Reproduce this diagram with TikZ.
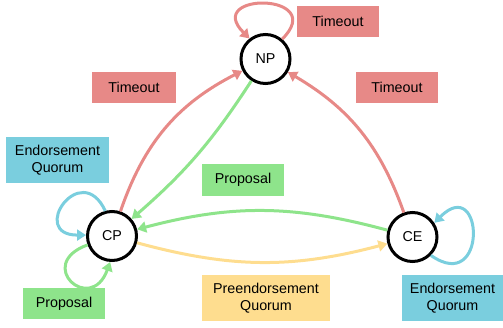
\documentclass[tikz,border=0pt]{standalone}
\usepackage{fontspec}
\setmainfont{Liberation Sans}
\usepackage{tikz}
\usetikzlibrary{arrows.meta}

\definecolor{tored}{RGB}{231,137,135}
\definecolor{togreen}{RGB}{142,228,139}
\definecolor{toblue}{RGB}{122,206,222}
\definecolor{toyellow}{RGB}{254,221,143}

\begin{document}
\begin{tikzpicture}[x=1pt, y=1pt,
    font=\fontsize{14.3}{17}\selectfont,
    state/.style={circle, draw=black, line width=3pt, fill=white, minimum size=49pt, inner sep=0pt},
    tag/.style={fill=#1, align=center, inner sep=0pt, minimum height=31pt},
    move/.style={#1, line width=3pt, -{Triangle[length=9pt,width=11pt]}}
  ]
  \useasboundingbox (0,0) rectangle (503,327);
  \node[state] (NP) at (265.5,268) {NP};
  \node[state] (CP) at (112,91) {CP};
  \node[state] (CE) at (412.5,90) {CE};

  \node[tag=tored, minimum width=82pt] (timeoutNP) at (338,305.5) {Timeout};
  \node[tag=tored, minimum width=82pt] (timeoutCE) at (397,239.5) {Timeout};
  \node[tag=tored, minimum width=84pt] (timeoutCP) at (134,239.5) {Timeout};
  \node[tag=toblue, minimum width=103pt, minimum height=46pt] (endorseCP) at (57.5,167) {Endorsement\\Quorum};
  \node[tag=togreen, minimum width=82pt] (proposalCP) at (64,23.5) {Proposal};
  \node[tag=togreen, minimum width=82pt] (proposalNP) at (243,147) {Proposal};
  \node[tag=toyellow, minimum width=128pt, minimum height=46pt] (preendorse) at (266,29) {Preendorsement\\Quorum};
  \node[tag=toblue, minimum width=101pt, minimum height=46pt] (endorseCE) at (452.5,29) {Endorsement\\Quorum};

  \draw[move=tored] (CP) to[bend left=22] (NP);
  \draw[move=tored] (CE) to[bend right=20] (NP);
  \draw[move=togreen] (NP) to[bend left=8] (CP);
  \draw[move=togreen] (CE) to[bend right=15] (CP);
  \draw[move=toyellow] (CP) to[bend right=15] (CE);

  \draw[move=tored] (NP.50) to[out=45, in=135, distance=66pt] (NP.128);
  \draw[move=toblue] (CP.105) to[out=115, in=180, distance=58pt] (CP.178);
  \draw[move=togreen] (CP.200) to[out=200, in=250, distance=57pt] (CP.266);
  \draw[move=toblue] (CE.-45) to[out=-35, in=45, distance=70pt] (CE.33);
\end{tikzpicture}
\end{document}
